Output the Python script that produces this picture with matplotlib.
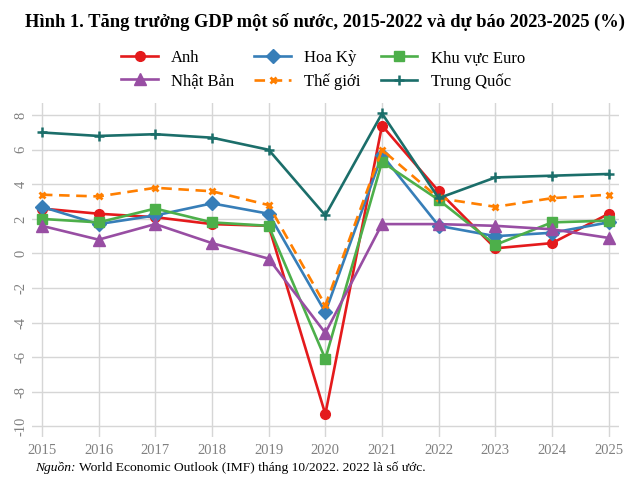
import matplotlib
matplotlib.use("Agg")
import matplotlib.pyplot as plt

years = [2015, 2016, 2017, 2018, 2019, 2020, 2021, 2022, 2023, 2024, 2025]
anh = [2.6, 2.3, 2.1, 1.7, 1.6, -9.3, 7.4, 3.6, 0.3, 0.6, 2.3]
hoa_ky = [2.7, 1.7, 2.2, 2.9, 2.3, -3.4, 5.7, 1.6, 1.0, 1.2, 1.8]
euro = [2.0, 1.8, 2.6, 1.8, 1.6, -6.1, 5.3, 3.1, 0.5, 1.8, 1.9]
nhat_ban = [1.6, 0.8, 1.7, 0.6, -0.3, -4.6, 1.7, 1.7, 1.6, 1.4, 0.9]
the_gioi = [3.4, 3.3, 3.8, 3.6, 2.8, -3.0, 6.0, 3.2, 2.7, 3.2, 3.4]
trung_quoc = [7.0, 6.8, 6.9, 6.7, 6.0, 2.2, 8.1, 3.2, 4.4, 4.5, 4.6]
yticks = [-10, -8, -6, -4, -2, 0, 2, 4, 6, 8]

plt.rcParams['font.family'] = ['Liberation Serif', 'DejaVu Serif']

fig = plt.figure(figsize=(6.3, 4.91), dpi=100)
ax = fig.add_axes([0.0503, 0.1106, 0.9322, 0.6794])

lw = 1.9
h_anh, = ax.plot(years, anh, color='#E41A1C', lw=lw, marker='o', ms=7, label='Anh', zorder=3)
h_hk, = ax.plot(years, hoa_ky, color='#377EB8', lw=lw, marker='D', ms=7, label='Hoa Kỳ', zorder=3)
h_eu, = ax.plot(years, euro, color='#4DAF4A', lw=lw, marker='s', ms=7, label='Khu vực Euro', zorder=3)
h_nb, = ax.plot(years, nhat_ban, color='#984EA3', lw=lw, marker='^', ms=8, label='Nhật Bản', zorder=3)
h_tg, = ax.plot(years, the_gioi, color='#FF7F00', lw=lw, ls=(0, (4, 2.5)), marker='x', ms=5, mew=2, label='Thế giới', zorder=3)
h_tq, = ax.plot(years, trung_quoc, color='#1B6E6A', lw=lw, marker='+', ms=7, mew=1.8, label='Trung Quốc', zorder=3)

ax.set_xlim(2014.82, 2025.18)
ax.set_ylim(-10.6, 8.7)
ax.set_xticks(years)
ax.set_yticks(yticks)
ax.set_xticklabels([str(y) for y in years])
ax.set_yticklabels([str(v) for v in yticks], rotation=90, va='center')
ax.tick_params(axis='both', length=0, labelsize=10.5, colors='#808080')
ax.tick_params(axis='x', pad=5)
ax.tick_params(axis='y', pad=3)
ax.grid(True, color='#d6d6d6', lw=1.0)
ax.set_axisbelow(True)
for s in ax.spines.values():
    s.set_visible(False)

fig.text(0.516, 0.955, 'Hình 1. Tăng trưởng GDP một số nước, 2015-2022 và dự báo 2023-2025 (%)',
         ha='center', va='center', fontsize=13.3, fontweight='bold')

handles = [h_anh, h_nb, h_hk, h_tg, h_eu, h_tq]
fig.legend(handles, [h.get_label() for h in handles], loc='center',
           bbox_to_anchor=(0.513, 0.858), ncol=3, frameon=False,
           fontsize=12, handlelength=2.2, handletextpad=0.8,
           columnspacing=1.2, labelspacing=0.45)

fig.text(0.055, 0.047, 'Nguồn:', style='italic', fontsize=9.7, ha='left', va='center')
fig.text(0.125, 0.047, 'World Economic Outlook (IMF) tháng 10/2022. 2022 là số ước.',
         fontsize=9.7, ha='left', va='center')

fig.savefig('out.png', dpi=100)
